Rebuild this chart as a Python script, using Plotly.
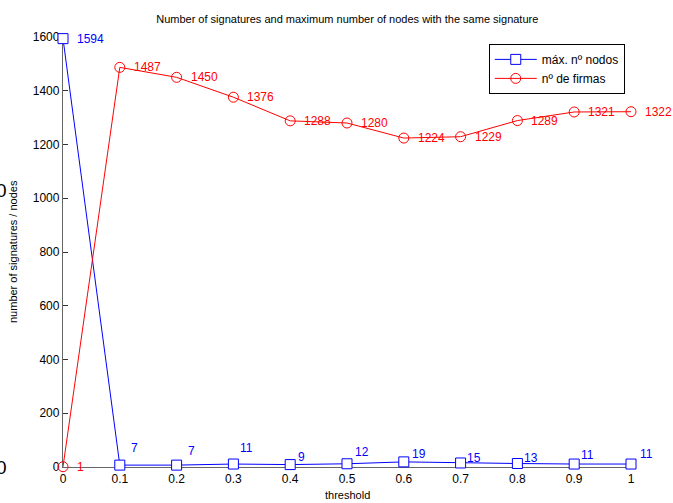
import plotly.graph_objects as go

thresholds = [0, 0.1, 0.2, 0.3, 0.4, 0.5, 0.6, 0.7, 0.8, 0.9, 1.0]
max_nodes = [1594, 7, 7, 11, 9, 12, 19, 15, 13, 11, 11]
num_signatures = [1, 1487, 1450, 1376, 1288, 1280, 1224, 1229, 1289, 1321, 1322]
x_ticks = [0, 0.1, 0.2, 0.3, 0.4, 0.5, 0.6, 0.7, 0.8, 0.9, 1]
y_ticks = [0, 200, 400, 600, 800, 1000, 1200, 1400, 1600]

# label offsets (pixels) for the blue labels
blue_dx = [12, 9, 9, 5, 6, 6, 6, 4, 5, 5, 7]
blue_dy = [0, 17, 14, 16, 8, 12, 8, 5, 6, 9, 10]

FONT = "Liberation Sans, Arial, sans-serif"
BLUE = "#0000ff"
RED = "#ff0000"

fig = go.Figure()
fig.add_trace(go.Scatter(
    x=thresholds, y=max_nodes, mode="lines+markers", name="máx. nº nodos",
    line=dict(color=BLUE, width=1),
    marker=dict(symbol="square", size=10, color="white", line=dict(color=BLUE, width=1)),
    cliponaxis=False,
))
fig.add_trace(go.Scatter(
    x=thresholds, y=num_signatures, mode="lines+markers", name="nº de firmas",
    line=dict(color=RED, width=1),
    marker=dict(symbol="circle", size=10, color="rgba(255,255,255,0)", line=dict(color=RED, width=1)),
    cliponaxis=False,
))

annotations = []
for x, y, dx, dy in zip(thresholds, max_nodes, blue_dx, blue_dy):
    annotations.append(dict(x=x, y=y, xref="x", yref="y", text=str(y), showarrow=False,
                            xanchor="left", yanchor="middle", xshift=dx, yshift=dy,
                            font=dict(family=FONT, size=12, color=BLUE)))
for x, y in zip(thresholds, num_signatures):
    annotations.append(dict(x=x, y=y, xref="x", yref="y", text=str(y), showarrow=False,
                            xanchor="left", yanchor="middle", xshift=12, yshift=0,
                            font=dict(family=FONT, size=12, color=RED)))

# axis titles
annotations.append(dict(x=0.5, y=-0.065, xref="paper", yref="paper", text="threshold",
                        showarrow=False, xanchor="center", yanchor="middle",
                        font=dict(family=FONT, size=11, color="black")))
annotations.append(dict(x=-0.088, y=0.5, xref="paper", yref="paper", text="number of signatures / nodes",
                        showarrow=False, xanchor="center", yanchor="middle", textangle=-90,
                        font=dict(family=FONT, size=11, color="black")))
# partially visible characters at the left edge
for yp in [0.644, 0.0]:
    annotations.append(dict(x=-0.0951, y=yp, xref="paper", yref="paper", text="0",
                            showarrow=False, xanchor="right", yanchor="middle",
                            font=dict(family=FONT, size=19, color="black")))

fig.update_layout(
    width=673, height=503,
    margin=dict(l=63, r=42, t=37, b=36, autoexpand=False),
    paper_bgcolor="white", plot_bgcolor="white",
    font=dict(family=FONT, size=12, color="black"),
    title=dict(text="Number of signatures and maximum number of nodes with the same signature",
               x=0.516, xanchor="center", y=0.962, yanchor="middle",
               font=dict(family=FONT, size=11, color="black")),
    showlegend=True,
    legend=dict(x=0.989, y=0.984, xanchor="right", yanchor="top",
                bgcolor="white", bordercolor="black", borderwidth=1,
                font=dict(family=FONT, size=12, color="black"),
                tracegroupgap=0, itemsizing="trace", itemwidth=42),
    annotations=annotations,
)
fig.update_xaxes(range=[0, 1], tickvals=x_ticks, ticktext=[f"{v:g}" for v in x_ticks],
                 showgrid=False, zeroline=False, showline=True, linecolor="#666666", linewidth=1.3,
                 ticks="inside", ticklen=5, tickcolor="#333333", automargin=False,
                 layer="below traces",
                 tickfont=dict(family=FONT, size=12, color="black"))
fig.update_yaxes(range=[0, 1600], tickvals=y_ticks,
                 showgrid=False, zeroline=False, showline=True, linecolor="#666666", linewidth=1.3,
                 ticks="inside", ticklen=5, tickcolor="#333333", automargin=False,
                 layer="below traces",
                 tickfont=dict(family=FONT, size=12, color="black"))

fig.write_html("out.html", config={"displayModeBar": False},
               post_script="document.body.style.margin='0px';document.body.style.overflow='hidden';")
